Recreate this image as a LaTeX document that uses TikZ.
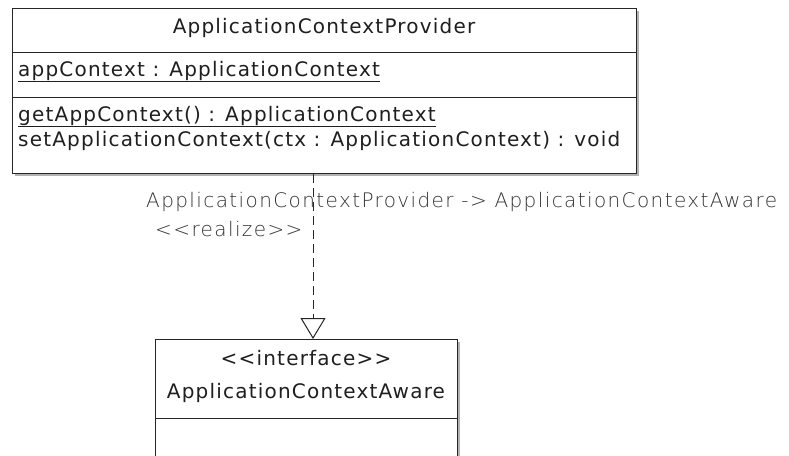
\documentclass[tikz,border=0pt]{standalone}
\usepackage{fontspec}
\newfontfamily\mainfnt[LetterSpace=6]{DejaVu Sans}
\newfontfamily\lightfont[LetterSpace=7]{DejaVu Sans ExtraLight}
\usetikzlibrary{arrows.meta}
\begin{document}
\begin{tikzpicture}[x=1pt,y=-1pt,
  umlbox/.style={draw=black!85, line width=1pt, fill=white, anchor=north west, inner sep=0pt},
  shadowbox/.style={fill=black!30, draw=none, anchor=north west, inner sep=0pt},
  sep/.style={draw=black!85, line width=1pt},
  mtext/.style={font=\mainfnt\fontsize{20}{22}\selectfont, text=black!88, inner sep=0pt},
  ltext/.style={font=\lightfont\fontsize{20}{22}\selectfont, text=black!80, inner sep=0pt},
  realline/.style={draw=black!85, line width=1pt, dash pattern=on 9pt off 5pt,
     -{Triangle[open, length=21pt, width=25pt, line width=1pt]}}]
\useasboundingbox (0,0) rectangle (789,455);
% provider box
\node[shadowbox, minimum width=624pt, minimum height=165pt] at (15,11) {};
\node[umlbox, minimum width=624pt, minimum height=165pt] (prov) at (12,8) {};
\draw[sep] (prov.west |- 0,52) -- (prov.east |- 0,52);
\draw[sep] (prov.west |- 0,97) -- (prov.east |- 0,97);
\node[mtext, anchor=base] (provname) at (324,33) {ApplicationContextProvider};
\node[mtext, anchor=base west] (attr) at (18,76) {\underline{appContext : ApplicationContext}};
\node[mtext, anchor=base west] (op1) at (18,121) {\underline{getAppContext() : ApplicationContext}};
\node[mtext, anchor=base west] (op2) at (18,146) {setApplicationContext(ctx : ApplicationContext) : void};
% interface box
\node[shadowbox, minimum width=302pt, minimum height=130pt] at (158,342) {};
\node[umlbox, minimum width=302pt, minimum height=130pt] (aware) at (155,339) {};
\draw[sep] (aware.west |- 0,418) -- (aware.east |- 0,418);
\node[mtext, anchor=base] (stereo) at (306,365) {<<interface>>};
\node[mtext, anchor=base] (awarename) at (306,398) {ApplicationContextAware};
% realization
\coordinate (start) at (prov.south -| 313,0);
\coordinate (tip) at (aware.north -| 313,0);
\draw[realline] (start) -- (tip);
\node[ltext, anchor=base west] (lab) at (146,207) {ApplicationContextProvider -> ApplicationContextAware};
\node[ltext, anchor=base west] (real) at (155,236) {<<realize>>};
\end{tikzpicture}
\end{document}
